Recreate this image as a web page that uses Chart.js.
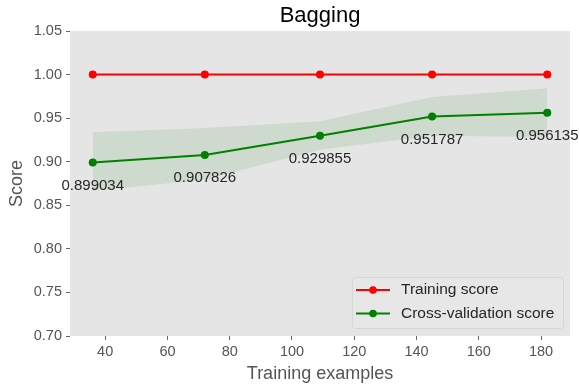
<!DOCTYPE html>
<html>
<head>
<meta charset="utf-8">
<script src="https://cdn.jsdelivr.net/npm/chart.js@4/dist/chart.umd.min.js"></script>
<style>
  html, body { margin: 0; padding: 0; background: #ffffff; }
  #wrap { width: 579px; height: 385px; }
</style>
</head>
<body>
<div id="wrap"><canvas id="c" width="579" height="385"></canvas></div>
<script>
// Learning curve data
const trainSizes = [36, 72, 109, 145, 182];
const trainScores = [1.0, 1.0, 1.0, 1.0, 1.0];
const cvScores = [0.899034, 0.907826, 0.929855, 0.951787, 0.956135];
const cvUpper = [0.9337, 0.9387, 0.9463, 0.9744, 0.9843];
const cvLower = [0.8667, 0.8793, 0.9138, 0.9299, 0.9284];
const xTicks = [40, 60, 80, 100, 120, 140, 160, 180];
const yTicks = [0.70, 0.75, 0.80, 0.85, 0.90, 0.95, 1.00, 1.05];

const FONT = "'Liberation Sans', Arial, sans-serif";
const pts = (ys) => trainSizes.map((x, i) => ({ x: x, y: ys[i] }));

// Plot panel background
const panelBg = {
  id: 'panelBg',
  beforeDraw(chart) {
    const { ctx, chartArea: a } = chart;
    ctx.save();
    ctx.fillStyle = '#e5e5e5';
    ctx.fillRect(a.left, a.top, a.right - a.left, a.bottom - a.top);
    ctx.restore();
  }
};

// Value labels under the cross-validation points
const valueLabels = {
  id: 'valueLabels',
  afterDatasetsDraw(chart) {
    const ctx = chart.ctx;
    const meta = chart.getDatasetMeta(3);
    ctx.save();
    ctx.font = '15px ' + FONT;
    ctx.fillStyle = '#262626';
    ctx.textAlign = 'center';
    ctx.textBaseline = 'middle';
    meta.data.forEach((p, i) => {
      ctx.fillText(String(cvScores[i]), p.x, p.y + 23);
    });
    ctx.restore();
  }
};

// Legend box in the lower right of the plot panel
const cornerLegend = {
  id: 'cornerLegend',
  afterDraw(chart) {
    const ctx = chart.ctx;
    const a = chart.chartArea;
    const items = chart.data.datasets.filter(d => d.label);
    const boxW = 211, rowH = 23.5, boxH = 51;
    const x0 = a.right - 7 - boxW, y0 = a.bottom - 8 - boxH;
    ctx.save();
    ctx.fillStyle = 'rgba(232,232,232,0.85)';
    ctx.strokeStyle = '#d6d6d6';
    ctx.lineWidth = 1;
    ctx.beginPath();
    if (ctx.roundRect) ctx.roundRect(x0 + 0.5, y0 + 0.5, boxW, boxH, 3);
    else ctx.rect(x0 + 0.5, y0 + 0.5, boxW, boxH);
    ctx.fill();
    ctx.stroke();
    ctx.font = '15.5px ' + FONT;
    ctx.textBaseline = 'middle';
    ctx.textAlign = 'left';
    items.forEach((d, i) => {
      const cy = y0 + 13 + i * rowH;
      ctx.strokeStyle = d.borderColor;
      ctx.lineWidth = 2;
      ctx.beginPath();
      ctx.moveTo(x0 + 4, cy);
      ctx.lineTo(x0 + 38, cy);
      ctx.stroke();
      ctx.fillStyle = d.borderColor;
      ctx.beginPath();
      ctx.arc(x0 + 21, cy, 3.8, 0, Math.PI * 2);
      ctx.fill();
      ctx.fillStyle = '#262626';
      ctx.fillText(d.label, x0 + 49, cy);
    });
    ctx.restore();
  }
};

new Chart(document.getElementById('c'), {
  type: 'line',
  data: {
    datasets: [
      {
        data: pts(cvUpper),
        borderWidth: 0, pointRadius: 0, pointHoverRadius: 0,
        borderColor: 'rgba(0,0,0,0)', fill: false
      },
      {
        data: pts(cvLower),
        borderWidth: 0, pointRadius: 0, pointHoverRadius: 0,
        borderColor: 'rgba(0,0,0,0)',
        backgroundColor: 'rgba(0,128,0,0.1)', fill: '-1'
      },
      {
        label: 'Training score',
        data: pts(trainScores),
        borderColor: '#ff0000', backgroundColor: '#ff0000',
        borderWidth: 2, pointRadius: 4, pointBorderWidth: 0, fill: false
      },
      {
        label: 'Cross-validation score',
        data: pts(cvScores),
        borderColor: '#008000', backgroundColor: '#008000',
        borderWidth: 2, pointRadius: 4, pointBorderWidth: 0, fill: false
      }
    ]
  },
  options: {
    responsive: false,
    animation: false,
    events: [],
    layout: { padding: { left: 0, right: 9, top: 0, bottom: 0 } },
    plugins: {
      legend: { display: false },
      tooltip: { enabled: false },
      filler: { drawTime: 'beforeDatasetsDraw' },
      title: {
        display: true,
        fullSize: false,
        text: 'Bagging',
        color: '#000000',
        font: { family: FONT, size: 22, weight: 'normal', lineHeight: 1.2 },
        padding: { top: 3, bottom: 1.6 }
      }
    },
    scales: {
      x: {
        type: 'linear',
        min: 28.7,
        max: 189.3,
        afterBuildTicks: (s) => { s.ticks = xTicks.map(v => ({ value: v })); },
        afterFit: (s) => { s.height = 49; },
        border: { display: false },
        grid: { drawOnChartArea: false, drawTicks: true, tickLength: 4, color: '#666666', tickWidth: 1 },
        ticks: { color: '#555555', padding: 3, font: { family: FONT, size: 14.5 }, maxRotation: 0 },
        title: {
          display: true, text: 'Training examples', color: '#555555',
          font: { family: FONT, size: 18 }, padding: { top: 0, bottom: 0 }
        }
      },
      y: {
        type: 'linear',
        min: 0.70,
        max: 1.05,
        afterBuildTicks: (s) => { s.ticks = yTicks.map(v => ({ value: v })); },
        afterFit: (s) => { s.width = 70; },
        border: { display: false },
        grid: { drawOnChartArea: false, drawTicks: true, tickLength: 4, color: '#666666', tickWidth: 1 },
        ticks: {
          color: '#555555', padding: 4, font: { family: FONT, size: 14.5 },
          callback: (v) => Number(v).toFixed(2)
        },
        title: {
          display: true, text: 'Score', color: '#555555',
          font: { family: FONT, size: 18 }, padding: { top: 6, bottom: 0 }
        }
      }
    }
  },
  plugins: [panelBg, valueLabels, cornerLegend]
});
</script>
</body>
</html>
